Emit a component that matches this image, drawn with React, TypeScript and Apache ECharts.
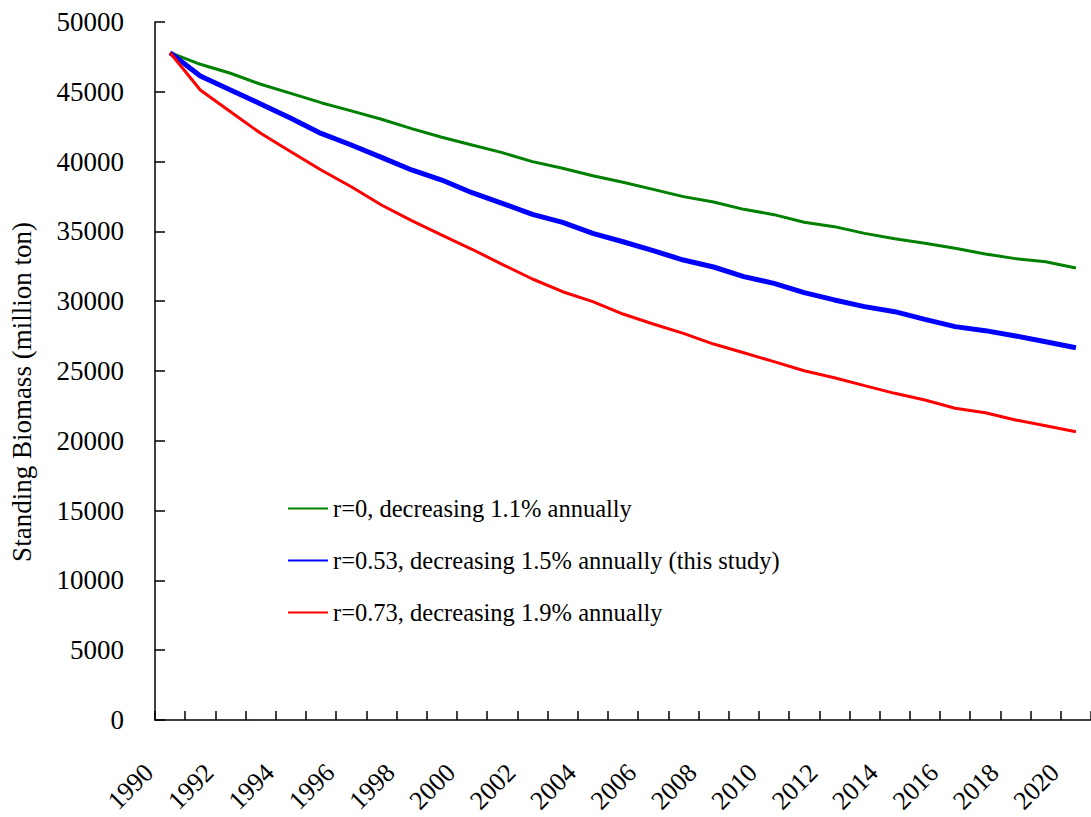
import React, { useEffect, useRef } from "react";
import * as echarts from "echarts";

const years: string[] = [];
for (let y = 1990; y <= 2020; y++) years.push(String(y));

const seriesNames = [
  "r=0, decreasing 1.1% annually",
  "r=0.53, decreasing 1.5% annually (this study)",
  "r=0.73, decreasing 1.9% annually",
];

const greenValues = [
  47800, 46970, 46330, 45540, 44890, 44220, 43630, 43030, 42360, 41740,
  41190, 40640, 40000, 39520, 38990, 38520, 38010, 37490, 37110, 36580,
  36200, 35650, 35340, 34860, 34480, 34150, 33790, 33380, 33050, 32830, 32380,
];

const blueValues = [
  47800, 46130, 45130, 44130, 43100, 42020, 41190, 40300, 39400, 38680,
  37770, 37010, 36220, 35650, 34860, 34260, 33620, 32950, 32450, 31760,
  31280, 30610, 30090, 29610, 29250, 28700, 28180, 27890, 27510, 27100, 26670,
];

const redValues = [
  47800, 45130, 43575, 42025, 40710, 39400, 38200, 36890, 35770, 34740,
  33720, 32640, 31590, 30680, 29970, 29080, 28370, 27700, 26930, 26310,
  25670, 25020, 24520, 23950, 23400, 22920, 22330, 22010, 21490, 21080, 20650,
];

const FONT = "Liberation Serif";

export default function App() {
  const ref = useRef<HTMLDivElement>(null);
  useEffect(() => {
    if (!ref.current) return;
    const chart = echarts.init(ref.current, undefined, { renderer: "svg" });
    chart.setOption({
      animation: false,
      backgroundColor: "#ffffff",
      textStyle: { fontFamily: FONT, color: "#000" },
      grid: { left: 150, top: 22, right: 0, bottom: 97, containLabel: false },
      legend: {
        orient: "vertical",
        left: 282,
        top: 491,
        padding: 5,
        itemWidth: 40,
        itemHeight: 14,
        itemGap: 27,
        itemStyle: { color: "transparent", borderWidth: 0, borderColor: "transparent" },
        textStyle: { fontFamily: FONT, fontSize: 24.5, color: "#000" },
        data: seriesNames,
      },
      xAxis: {
        type: "category",
        data: years,
        boundaryGap: true,
        axisLine: { lineStyle: { color: "#000", width: 1.5 } },
        axisTick: { show: true, inside: true, length: 9, interval: 0, lineStyle: { color: "#000", width: 1.5 } },
        axisLabel: {
          interval: 1,
          rotate: 45,
          margin: 27,
          padding: [0, 30, 0, 0],
          fontFamily: FONT,
          fontSize: 26,
          color: "#000",
        },
        splitLine: { show: false },
      },
      yAxis: {
        type: "value",
        min: 0,
        max: 50000,
        interval: 5000,
        name: "Standing Biomass (million ton)",
        nameLocation: "middle",
        nameGap: 120,
        nameTextStyle: { fontFamily: FONT, fontSize: 27, color: "#000", padding: [0, 42, 0, 0] },
        axisLine: { show: true, lineStyle: { color: "#000", width: 1.5 } },
        axisTick: { show: true, inside: true, length: 10, lineStyle: { color: "#000", width: 1.5 } },
        axisLabel: {
          margin: 31,
          fontFamily: FONT,
          fontSize: 27,
          color: "#000",
          formatter: (v: number) => String(v),
        },
        splitLine: { show: false },
      },
      series: [
        {
          name: seriesNames[0],
          type: "line",
          data: greenValues,
          symbol: "none",
          lineStyle: { color: "#008000", width: 3 },
          itemStyle: { color: "#008000" },
        },
        {
          name: seriesNames[1],
          type: "line",
          data: blueValues,
          symbol: "none",
          lineStyle: { color: "#0000ff", width: 5 },
          itemStyle: { color: "#0000ff" },
        },
        {
          name: seriesNames[2],
          type: "line",
          data: redValues,
          symbol: "none",
          lineStyle: { color: "#ff0000", width: 3 },
          itemStyle: { color: "#ff0000" },
        },
      ],
    });
    return () => chart.dispose();
  }, []);
  return (
    <div
      ref={ref}
      style={{ position: "fixed", left: 0, top: 0, width: 1091, height: 817 }}
    />
  );
}
